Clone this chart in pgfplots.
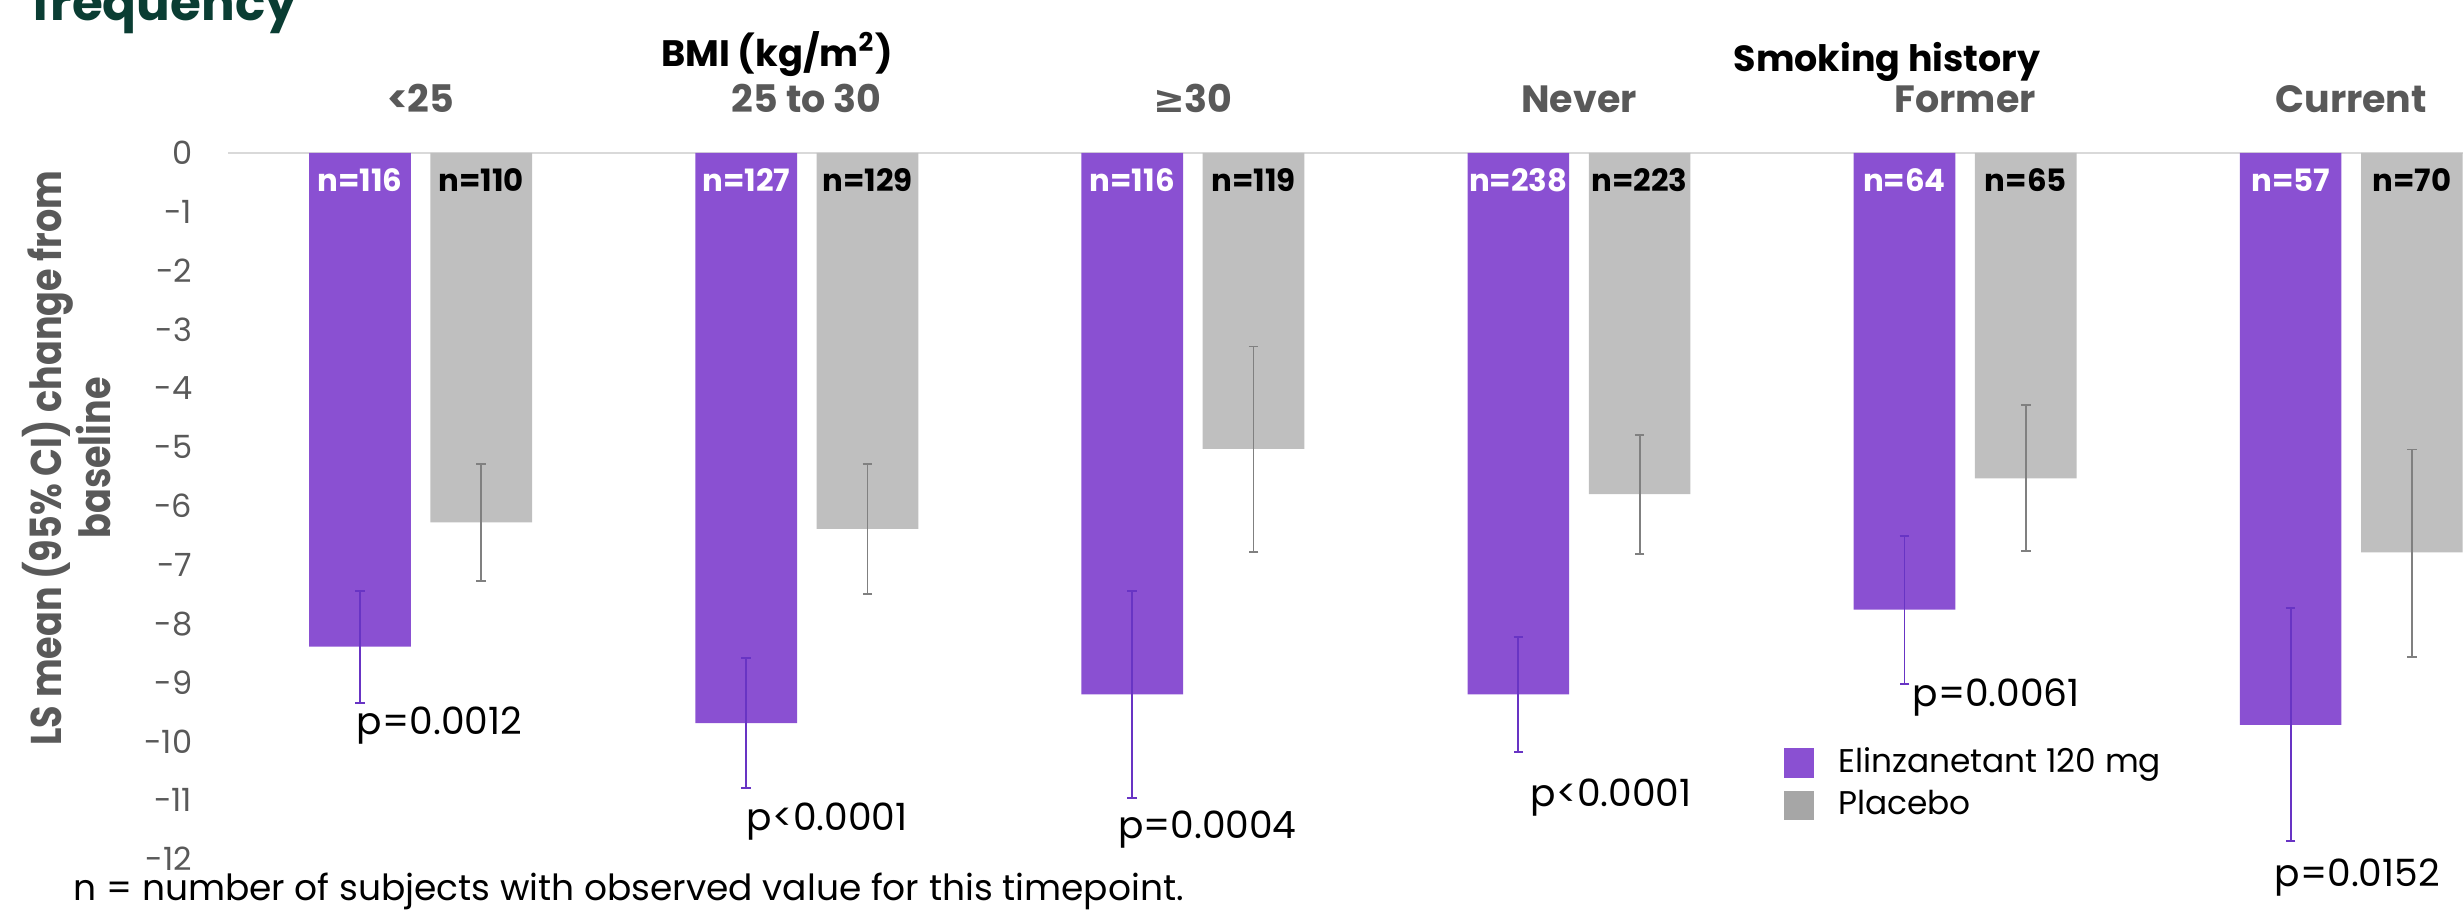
\documentclass[border=0pt]{standalone}
\usepackage{pgfplots}
\pgfplotsset{compat=1.18}
\usepackage{fontspec}
\setmainfont{Poppins}
\newfontfamily\symfont{DejaVu Sans}
\newfontfamily\ylabfont{Poppins}[FakeStretch=0.85]

\definecolor{barpurple}{RGB}{138,80,210}
\definecolor{errpurple}{RGB}{104,52,196}
\definecolor{bargray}{RGB}{191,191,191}
\definecolor{errgray}{RGB}{128,128,128}
\definecolor{leggray}{RGB}{166,166,166}
\definecolor{labelgray}{RGB}{89,89,89}
\definecolor{zeroline}{RGB}{217,217,217}
\definecolor{titlegreen}{RGB}{10,61,51}

\begin{document}
\begin{tikzpicture}
% page = 2463 x 918 px, 1px = 0.25pt
\path[use as bounding box] (0pt,0pt) rectangle (615.75pt,-229.5pt);
\begin{scope}[x=0.25pt,y=-0.25pt]
  \node[anchor=base west, inner sep=0pt, text=titlegreen,
        font=\bfseries\fontsize{12.5pt}{14pt}\selectfont] at (32,21) {frequency};
  \node[anchor=base, inner sep=0pt, font=\bfseries\fontsize{9.2pt}{11pt}\selectfont]
        at (777,67) {BMI (kg/m\textsuperscript{2})};
  \node[anchor=base, inner sep=0pt, font=\bfseries\fontsize{9.1pt}{11pt}\selectfont]
        at (1887,72) {Smoking history};
  \node[rotate=90, align=center, inner sep=0pt, text=labelgray,
        font=\ylabfont\bfseries\fontsize{10.75pt}{12.25pt}\selectfont]
        at (67,458) {LS mean (95\% CI) change from\\baseline};
  \node[anchor=base west, inner sep=0pt, font=\fontsize{9pt}{11pt}\selectfont]
        at (73,901) {n = number of subjects with observed value for this timepoint.};
\end{scope}

\begin{axis}[
    at={(57pt,-38.25pt)}, anchor=north west,
    scale only axis, width=558.8pt, height=176.5pt,
    xmin=-0.499, xmax=5.29, ymin=-12, ymax=0,
    axis x line*=top, axis y line*=left,
    y axis line style={draw=none},
    x axis line style={draw=zeroline, line width=0.6pt},
    major tick length=0pt, tick style={draw=none},
    xtick={0,...,5},
    xticklabels={<25, 25 to 30, {{\symfont\bfseries ≥}30}, Never, Former, Current},
    xticklabel style={anchor=base, inner sep=0pt, yshift=10pt, text=labelgray,
        font=\bfseries\fontsize{9.5pt}{11pt}\selectfont},
    ytick={0,-1,...,-12},
    yticklabels={0,-1,-2,-3,-4,-5,-6,-7,-8,-9,-10,-11,-12},
    yticklabel style={anchor=east, inner sep=0pt, xshift=-8.75pt, text=labelgray,
        font=\fontsize{8pt}{10pt}\selectfont},
    ybar, bar width=0.2634,
    clip=false,
    legend style={at={(axis cs:3.528,-10.09)}, anchor=north west,
        draw=none, fill=none, inner sep=0pt, row sep=3pt,
        font=\fontsize{8.2pt}{10pt}\selectfont,
        nodes={inner sep=0pt},
        /tikz/every odd column/.append style={column sep=6pt}},
    legend cell align=left,
]
% Elinzanetant 120 mg: LS mean with 95% CI
\addplot[forget plot, fill=barpurple, draw=none, bar shift=-0.157,
    error bars/.cd, y dir=both, y explicit,
    error bar style={draw=errpurple, line width=0.45pt},
    error mark options={draw=errpurple, mark size=1.2pt, line width=0.45pt, rotate=90}]
  coordinates {
    (0,-8.39) += (0,0.94) -= (0,0.96)
    (1,-9.69) += (0,1.10) -= (0,1.11)
    (2,-9.20) += (0,1.75) -= (0,1.77)
    (3,-9.20) += (0,0.97) -= (0,0.98)
    (4,-7.76) += (0,1.25) -= (0,1.27)
    (5,-9.72) += (0,1.98) -= (0,1.98)
  };
% Placebo
\addplot[forget plot, fill=bargray, draw=none, bar shift=0.157,
    error bars/.cd, y dir=both, y explicit,
    error bar style={draw=errgray, line width=0.45pt},
    error mark options={draw=errgray, mark size=1.2pt, line width=0.45pt, rotate=90}]
  coordinates {
    (0,-6.28) += (0,1.00) -= (0,1.00)
    (1,-6.39) += (0,1.11) -= (0,1.11)
    (2,-5.03) += (0,1.74) -= (0,1.75)
    (3,-5.80) += (0,1.00) -= (0,1.02)
    (4,-5.53) += (0,1.25) -= (0,1.23)
    (5,-6.79) += (0,1.75) -= (0,1.77)
  };

\addlegendimage{legend image code/.code={\fill[barpurple] (0pt,-3.5pt) rectangle (7.25pt,3.5pt);}}
\addlegendentry{Elinzanetant 120 mg}
\addlegendimage{legend image code/.code={\fill[leggray] (0pt,-3.5pt) rectangle (7.25pt,3.5pt);}}
\addlegendentry{Placebo}

% sample sizes
\begin{scope}[every node/.style={anchor=base, inner sep=0pt,
    font=\bfseries\fontsize{7.7pt}{9pt}\selectfont}]
  \node[text=white] at (axis cs:-0.157,-0.658) {n=116};
  \node[text=black] at (axis cs:0.157,-0.658) {n=110};
  \node[text=white] at (axis cs:0.843,-0.658) {n=127};
  \node[text=black] at (axis cs:1.157,-0.658) {n=129};
  \node[text=white] at (axis cs:1.843,-0.658) {n=116};
  \node[text=black] at (axis cs:2.157,-0.658) {n=119};
  \node[text=white] at (axis cs:2.843,-0.658) {n=238};
  \node[text=black] at (axis cs:3.157,-0.658) {n=223};
  \node[text=white] at (axis cs:3.843,-0.658) {n=64};
  \node[text=black] at (axis cs:4.157,-0.658) {n=65};
  \node[text=white] at (axis cs:4.843,-0.658) {n=57};
  \node[text=black] at (axis cs:5.157,-0.658) {n=70};
\end{scope}

% p-values
\begin{scope}[every node/.style={anchor=base west, inner sep=0pt,
    font=\fontsize{9.4pt}{11pt}\selectfont}]
  \node at (axis cs:-0.167,-9.88) {p=0.0012};
  \node at (axis cs:0.843,-11.52) {p<0.0001};
  \node at (axis cs:1.804,-11.66) {p=0.0004};
  \node at (axis cs:2.873,-11.11) {p<0.0001};
  \node at (axis cs:3.862,-9.40) {p=0.0061};
  \node at (axis cs:4.800,-12.46) {p=0.0152};
\end{scope}
\end{axis}
\end{tikzpicture}
\end{document}
